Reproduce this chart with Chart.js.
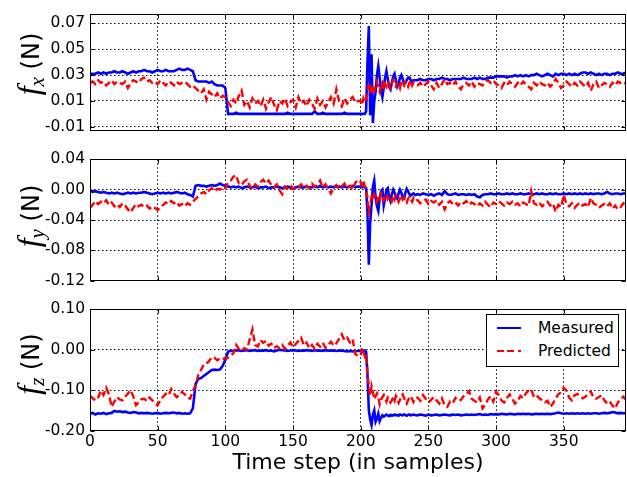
<!DOCTYPE html>
<html><head><meta charset="utf-8">
<script src="https://cdn.jsdelivr.net/npm/chart.js@4.4.1/dist/chart.umd.min.js"></script>
<style>
html,body{margin:0;padding:0;background:#fff;}
#wrap{position:relative;width:627px;height:477px;overflow:hidden;}
canvas{position:absolute;left:0;}
.ylab{position:absolute;white-space:nowrap;transform:translate(-50%,-50%) rotate(-90deg);font:24px "DejaVu Sans";line-height:1;color:#000;}
.ylab .f{font:italic 32px "Liberation Serif";}
.ylab .s{font:italic 21px "Liberation Serif";position:relative;top:5px;}
#legend{position:absolute;left:486px;top:314px;width:131px;height:51px;border:1px solid #000;background:#fff;font:15.5px "DejaVu Sans";color:#000;}
#legend .row{position:absolute;left:0;height:20px;line-height:20px;}
#legend .sw{position:absolute;left:10px;top:9px;width:24px;height:2px;}
#legend .tx{position:absolute;left:51px;top:0;white-space:nowrap;}
</style></head>
<body><div id="wrap">
<canvas id="c1" width="627" height="145" style="top:0px"></canvas>
<canvas id="c2" width="627" height="150" style="top:145px"></canvas>
<canvas id="c3" width="627" height="182" style="top:295px"></canvas>
<div class="ylab" style="left:28px;top:64px"><span class="f">f</span><span class="s">x</span> (N)</div>
<div class="ylab" style="left:28px;top:216px"><span class="f">f</span><span class="s">y</span> (N)</div>
<div class="ylab" style="left:28px;top:364px"><span class="f">f</span><span class="s">z</span> (N)</div>
<div id="legend">
 <div class="row" style="top:3px;width:131px"><div class="sw" style="background:#0000ff"></div><div class="tx">Measured</div></div>
 <div class="row" style="top:26px;width:131px"><div class="sw" style="background:repeating-linear-gradient(to right,#ff0000 0 7px,transparent 7px 10.5px)"></div><div class="tx">Predicted</div></div>
</div>
</div>
<script>
const seriesNames = ["Measured", "Predicted"];
const xTitle = "Time step (in samples)";
const xTicks = [0, 50, 100, 150, 200, 250, 300, 350];
const fxTicks = [-0.01, 0.01, 0.03, 0.05, 0.07];
const fyTicks = [-0.12, -0.08, -0.04, 0.00, 0.04];
const fzTicks = [-0.20, -0.10, 0.00, 0.10];

const steps = [
0,2,4,6,8,10,12,14,16,18,
20,22,24,26,28,30,32,34,36,38,
40,42,44,46,48,50,52,54,56,58,
60,62,64,66,68,70,72,74,76,78,
80,82,84,86,88,90,92,94,96,98,
100,102,104,106,108,110,112,114,116,118,
120,122,124,126,128,130,132,134,136,138,
140,142,144,146,148,150,152,154,156,158,
160,162,164,166,168,170,172,174,176,178,
180,182,184,186,188,190,192,194,196,198,
200,201,202,203,204,205,206,207,208,209,
210,211,212,213,214,215,216,217,218,219,
220,221,222,223,224,225,226,227,228,229,
230,231,232,233,234,235,236,237,238,239,
240,
242,244,246,248,250,252,254,256,258,260,
262,264,266,268,270,272,274,276,278,280,
282,284,286,288,290,292,294,296,298,300,
302,304,306,308,310,312,314,316,318,320,
322,324,326,328,330,332,334,336,338,340,
342,344,346,348,350,352,354,356,358,360,
362,364,366,368,370,372,374,376,378,380,
382,384,386,388,390,392,394,396];

const fxMeasured = [
0.031,0.031,0.031,0.032,0.031,0.032,0.031,0.032,0.032,0.033,
0.032,0.032,0.033,0.032,0.031,0.032,0.033,0.032,0.033,0.033,
0.034,0.033,0.033,0.032,0.033,0.034,0.033,0.033,0.034,0.033,
0.033,0.033,0.034,0.035,0.034,0.034,0.035,0.034,0.033,0.026,
0.025,0.025,0.025,0.025,0.024,0.025,0.023,0.022,0.022,0.022,
0.020,0.000,0.000,0.000,0.001,0.000,0.000,0.000,0.000,0.000,
0.000,0.000,0.000,0.000,0.000,0.000,0.000,0.000,0.000,0.000,
0.000,0.000,0.000,0.001,0.000,0.000,0.000,0.000,0.000,0.000,
0.000,0.000,0.000,0.002,0.000,0.000,0.001,0.000,0.000,0.000,
0.000,0.000,0.000,0.000,0.001,0.000,0.000,0.000,0.000,0.000,
0.000,0.000,0.000,0.000,0.002,0.040,0.068,-0.001,0.046,-0.007,
0.010,0.017,0.030,0.037,0.028,0.018,0.013,0.020,0.028,0.033,
0.027,0.021,0.019,0.024,0.029,0.031,0.026,0.021,0.023,0.028,
0.030,0.027,0.023,0.024,0.026,0.028,0.028,0.026,0.025,0.026,
0.026,
0.026,0.027,0.026,0.026,0.027,0.027,0.026,0.027,0.027,0.028,
0.027,0.027,0.026,0.027,0.027,0.027,0.027,0.028,0.027,0.027,
0.027,0.028,0.027,0.028,0.027,0.027,0.028,0.028,0.028,0.029,
0.029,0.029,0.029,0.028,0.029,0.029,0.030,0.029,0.030,0.029,
0.030,0.029,0.030,0.030,0.031,0.030,0.029,0.030,0.031,0.030,
0.029,0.031,0.030,0.031,0.031,0.030,0.031,0.030,0.031,0.030,
0.031,0.032,0.032,0.031,0.032,0.031,0.030,0.031,0.030,0.031,
0.031,0.030,0.031,0.031,0.032,0.031,0.031,0.032];

const fxPredicted = [
0.024,0.025,0.023,0.026,0.024,0.025,0.022,0.024,0.026,0.023,
0.025,0.024,0.023,0.025,0.020,0.024,0.026,0.025,0.024,0.027,
0.028,0.025,0.026,0.024,0.025,0.023,0.026,0.024,0.022,0.025,
0.024,0.022,0.025,0.023,0.024,0.025,0.023,0.021,0.022,0.020,
0.018,0.016,0.019,0.011,0.017,0.015,0.013,0.016,0.012,0.014,
0.013,0.009,0.006,0.011,0.008,0.014,0.018,0.007,0.010,0.005,
0.012,0.008,0.010,0.006,0.011,0.004,0.009,0.013,0.007,0.003,
0.010,0.008,0.012,0.006,0.009,0.011,0.005,0.013,0.008,0.010,
0.006,0.011,0.008,0.004,0.012,0.007,0.010,0.005,0.009,0.013,
0.008,0.019,0.010,0.006,0.012,0.008,0.011,0.013,0.009,0.010,
0.010,0.007,0.012,0.009,0.011,0.016,0.024,0.019,0.015,0.022,
0.018,0.021,0.025,0.020,0.017,0.022,0.024,0.019,0.023,0.021,
0.025,0.022,0.020,0.024,0.026,0.022,0.021,0.024,0.023,0.020,
0.025,0.024,0.022,0.025,0.023,0.021,0.024,0.026,0.022,0.024,
0.023,
0.022,0.024,0.021,0.023,0.025,0.022,0.019,0.024,0.020,0.023,
0.027,0.023,0.024,0.022,0.025,0.021,0.019,0.023,0.024,0.022,
0.025,0.021,0.024,0.023,0.022,0.025,0.026,0.024,0.026,0.023,
0.022,0.020,0.024,0.022,0.025,0.023,0.021,0.024,0.022,0.025,
0.023,0.021,0.019,0.024,0.022,0.025,0.023,0.022,0.024,0.021,
0.023,0.027,0.024,0.020,0.022,0.025,0.023,0.021,0.024,0.022,
0.025,0.023,0.021,0.024,0.018,0.023,0.025,0.020,0.022,0.024,
0.023,0.021,0.024,0.022,0.025,0.024,0.025,0.023];

const fyMeasured = [
-0.002,-0.003,-0.002,-0.003,-0.004,-0.003,-0.004,-0.005,-0.004,-0.005,
-0.004,-0.005,-0.006,-0.005,-0.004,-0.005,-0.004,-0.005,-0.004,-0.004,
-0.003,-0.004,-0.005,-0.006,-0.005,-0.004,-0.005,-0.004,-0.005,-0.004,
-0.005,-0.004,-0.003,-0.004,-0.005,-0.004,-0.006,-0.007,-0.009,0.005,
0.006,0.005,0.005,0.004,0.005,0.006,0.005,0.006,0.008,0.006,
0.005,0.004,0.003,0.004,0.003,0.004,0.002,0.003,0.004,0.003,
0.003,0.004,0.002,0.003,0.003,0.004,0.002,0.003,0.003,0.004,
0.003,0.002,0.003,0.004,0.003,0.002,0.003,0.004,0.003,0.003,
0.004,0.003,0.003,0.004,0.003,0.005,0.003,0.004,0.003,0.004,
0.003,0.004,0.004,0.003,0.004,0.003,0.004,0.005,0.003,0.004,
0.004,0.003,0.004,0.003,0.002,-0.030,-0.099,-0.043,-0.020,0.004,
0.012,-0.010,-0.022,-0.028,-0.012,-0.002,0.000,-0.021,-0.012,0.000,
0.002,-0.010,-0.015,-0.006,0.000,-0.004,-0.010,-0.012,-0.005,0.000,
-0.004,-0.011,-0.012,-0.004,0.001,-0.002,-0.006,-0.008,-0.006,-0.005,
-0.007,
-0.006,-0.007,-0.005,-0.006,-0.007,-0.006,-0.008,-0.006,-0.005,-0.007,
-0.002,-0.006,-0.007,-0.006,-0.005,-0.007,-0.006,-0.006,-0.007,-0.006,
-0.007,-0.006,-0.009,-0.010,-0.007,-0.006,-0.006,-0.005,-0.006,-0.006,
-0.005,-0.006,-0.006,-0.005,-0.006,-0.005,-0.006,-0.006,-0.005,-0.006,
-0.006,-0.005,-0.006,-0.006,-0.005,-0.006,-0.005,-0.006,-0.006,-0.005,
-0.006,-0.005,-0.006,-0.006,-0.005,-0.006,-0.005,-0.006,-0.005,-0.006,
-0.005,-0.006,-0.005,-0.006,-0.005,-0.006,-0.005,-0.005,-0.006,-0.005,
-0.003,-0.005,-0.006,-0.005,-0.005,-0.006,-0.005,-0.005];

const fyPredicted = [
-0.024,-0.020,-0.015,-0.019,-0.016,-0.018,-0.014,-0.020,-0.017,-0.022,
-0.019,-0.023,-0.018,-0.021,-0.026,-0.030,-0.024,-0.019,-0.022,-0.020,
-0.023,-0.021,-0.025,-0.022,-0.024,-0.027,-0.023,-0.020,-0.017,-0.019,
-0.015,-0.018,-0.016,-0.021,-0.019,-0.022,-0.018,-0.020,-0.016,-0.012,
-0.009,-0.005,-0.003,-0.006,-0.001,0.002,-0.002,0.001,0.000,0.004,
0.002,0.009,0.012,0.017,0.019,0.008,0.006,0.011,0.013,0.005,
0.001,0.007,0.004,0.010,0.013,0.008,0.012,0.006,0.003,0.007,
-0.001,-0.006,0.004,0.002,0.006,0.001,0.004,0.003,0.007,0.002,
0.005,0.002,0.008,0.004,0.006,0.012,0.003,0.007,0.001,-0.005,
0.003,0.006,0.001,0.004,0.008,0.002,0.005,0.000,0.009,0.013,
0.010,0.006,0.012,0.004,0.002,-0.012,-0.030,-0.018,-0.010,-0.014,
-0.006,-0.011,-0.016,-0.008,-0.012,-0.005,-0.010,-0.014,-0.009,-0.006,
-0.012,-0.008,-0.011,-0.015,-0.009,-0.013,-0.007,-0.011,-0.016,-0.012,
-0.008,-0.013,-0.010,-0.014,-0.017,-0.012,-0.009,-0.013,-0.016,-0.011,
-0.014,
-0.014,-0.018,-0.016,-0.013,-0.019,-0.015,-0.017,-0.014,-0.020,-0.016,
-0.026,-0.018,-0.015,-0.019,-0.017,-0.021,-0.016,-0.018,-0.015,-0.020,
-0.017,-0.019,-0.022,-0.018,-0.021,-0.016,-0.020,-0.023,-0.017,-0.019,
-0.015,-0.018,-0.021,-0.017,-0.019,-0.016,-0.020,-0.018,-0.022,-0.017,
-0.019,-0.021,-0.002,-0.018,-0.020,-0.017,-0.022,-0.019,-0.016,-0.021,
-0.018,-0.029,-0.020,-0.023,-0.007,-0.019,-0.022,-0.018,-0.024,-0.020,
-0.017,-0.021,-0.019,-0.023,-0.011,-0.018,-0.020,-0.024,-0.021,-0.019,
-0.022,-0.018,-0.025,-0.021,-0.026,-0.023,-0.018,-0.021];

const fzMeasured = [
-0.158,-0.156,-0.160,-0.157,-0.158,-0.156,-0.159,-0.157,-0.156,-0.151,
-0.153,-0.152,-0.154,-0.153,-0.155,-0.156,-0.154,-0.155,-0.157,-0.156,
-0.157,-0.156,-0.157,-0.158,-0.157,-0.156,-0.158,-0.157,-0.156,-0.157,
-0.156,-0.155,-0.157,-0.156,-0.158,-0.157,-0.158,-0.157,-0.145,-0.085,
-0.072,-0.070,-0.065,-0.060,-0.055,-0.050,-0.049,-0.050,-0.049,-0.040,
-0.025,-0.005,-0.002,-0.003,-0.001,-0.002,-0.003,-0.002,-0.001,-0.003,
-0.002,-0.001,-0.003,-0.002,-0.002,-0.001,-0.003,-0.002,-0.004,-0.002,
0.000,-0.001,-0.002,-0.003,-0.002,-0.001,-0.002,-0.003,-0.002,-0.002,
-0.001,-0.002,-0.003,-0.001,-0.002,-0.002,-0.003,-0.001,-0.002,-0.002,
-0.002,-0.003,-0.002,-0.002,-0.003,-0.004,-0.003,-0.004,-0.003,-0.003,
-0.003,-0.002,-0.003,-0.002,-0.005,-0.060,-0.150,-0.172,-0.186,-0.160,
-0.150,-0.178,-0.170,-0.158,-0.176,-0.168,-0.162,-0.165,-0.163,-0.160,
-0.162,-0.164,-0.161,-0.163,-0.162,-0.160,-0.162,-0.161,-0.163,-0.160,
-0.161,-0.162,-0.160,-0.161,-0.163,-0.161,-0.160,-0.162,-0.161,-0.160,
-0.161,
-0.162,-0.160,-0.161,-0.163,-0.160,-0.162,-0.161,-0.160,-0.162,-0.161,
-0.160,-0.161,-0.162,-0.160,-0.161,-0.160,-0.162,-0.161,-0.160,-0.161,
-0.160,-0.161,-0.160,-0.159,-0.161,-0.160,-0.161,-0.159,-0.160,-0.159,
-0.160,-0.158,-0.159,-0.160,-0.158,-0.159,-0.160,-0.158,-0.159,-0.158,
-0.159,-0.158,-0.160,-0.159,-0.158,-0.159,-0.158,-0.159,-0.158,-0.159,
-0.158,-0.157,-0.155,-0.157,-0.158,-0.157,-0.158,-0.157,-0.158,-0.157,
-0.158,-0.157,-0.158,-0.157,-0.158,-0.157,-0.157,-0.158,-0.157,-0.156,
-0.157,-0.156,-0.154,-0.155,-0.157,-0.156,-0.157,-0.157];

const fzPredicted = [
-0.113,-0.120,-0.125,-0.118,-0.101,-0.112,-0.094,-0.110,-0.141,-0.128,
-0.117,-0.123,-0.125,-0.116,-0.108,-0.100,-0.115,-0.137,-0.130,-0.122,
-0.121,-0.127,-0.118,-0.125,-0.131,-0.137,-0.124,-0.116,-0.109,-0.113,
-0.097,-0.108,-0.117,-0.112,-0.104,-0.110,-0.118,-0.121,-0.102,-0.088,
-0.062,-0.050,-0.037,-0.034,-0.028,-0.018,-0.020,-0.026,-0.022,-0.024,
-0.019,-0.020,-0.015,-0.008,0.012,0.002,-0.003,0.004,0.000,0.026,
0.050,0.012,0.008,0.024,0.017,0.022,0.010,0.015,0.005,0.009,
0.004,0.012,0.002,0.010,0.018,0.006,0.014,0.022,0.030,0.011,
0.018,0.004,0.012,0.002,0.015,0.008,0.017,0.005,0.012,0.020,
0.010,0.016,0.027,0.038,0.024,0.030,0.018,0.026,-0.010,-0.016,
-0.012,0.004,-0.006,-0.016,-0.010,-0.060,-0.088,-0.113,-0.090,-0.105,
-0.122,-0.115,-0.108,-0.118,-0.135,-0.124,-0.117,-0.112,-0.120,-0.128,
-0.118,-0.122,-0.130,-0.125,-0.118,-0.126,-0.114,-0.121,-0.131,-0.124,
-0.113,-0.110,-0.119,-0.127,-0.133,-0.125,-0.118,-0.115,-0.122,-0.129,
-0.120,
-0.118,-0.126,-0.112,-0.121,-0.130,-0.124,-0.117,-0.125,-0.133,-0.120,
-0.137,-0.141,-0.128,-0.132,-0.119,-0.126,-0.124,-0.115,-0.110,-0.102,
-0.121,-0.126,-0.130,-0.118,-0.145,-0.135,-0.123,-0.115,-0.128,-0.104,
-0.112,-0.125,-0.130,-0.119,-0.110,-0.121,-0.133,-0.127,-0.114,-0.120,
-0.108,-0.101,-0.098,-0.117,-0.113,-0.120,-0.125,-0.130,-0.126,-0.141,
-0.133,-0.120,-0.110,-0.105,-0.094,-0.101,-0.118,-0.125,-0.112,-0.109,
-0.115,-0.120,-0.116,-0.108,-0.103,-0.118,-0.121,-0.117,-0.112,-0.125,
-0.133,-0.128,-0.138,-0.145,-0.130,-0.122,-0.116,-0.124];

Chart.defaults.font.family = "DejaVu Sans";
Chart.defaults.font.size = 15.5;
Chart.defaults.color = "#000";
Chart.defaults.animation = false;

const framePlugin = {
  id: 'frame',
  afterDraw(chart) {
    const {ctx, chartArea: a, scales} = chart;
    ctx.save();
    ctx.strokeStyle = '#000';
    ctx.lineWidth = 1;
    const L = Math.round(a.left) + 0.5, R = Math.round(a.right) - 0.5;
    const T = Math.round(a.top) + 0.5, B = Math.round(a.bottom) - 0.5;
    ctx.strokeRect(L, T, R - L, B - T);
    ctx.beginPath();
    scales.x.ticks.forEach(t => {
      const x = Math.round(scales.x.getPixelForValue(t.value)) + 0.5;
      ctx.moveTo(x, T); ctx.lineTo(x, T + 4);
      ctx.moveTo(x, B); ctx.lineTo(x, B - 4);
    });
    scales.y.ticks.forEach(t => {
      const y = Math.round(scales.y.getPixelForValue(t.value)) + 0.5;
      ctx.moveTo(L, y); ctx.lineTo(L + 4, y);
      ctx.moveTo(R, y); ctx.lineTo(R - 4, y);
    });
    ctx.stroke();
    ctx.restore();
  }
};

function makeChart(id, measured, predicted, yMin, yMax, yTicks, padTop, xHeight, showX) {
  return new Chart(document.getElementById(id), {
    type: 'line',
    data: {
      labels: steps,
      datasets: [
        { label: seriesNames[0], data: measured, borderColor: '#0000ff', borderWidth: 2.6,
          pointRadius: 0, tension: 0, fill: false, order: 1 },
        { label: seriesNames[1], data: predicted, borderColor: '#ff0000', borderWidth: 2.4,
          borderDash: [7, 3.5], pointRadius: 0, tension: 0, fill: false, order: 0 }
      ]
    },
    options: {
      responsive: false,
      maintainAspectRatio: false,
      animation: false,
      layout: { padding: { top: padTop, right: 1, left: 0, bottom: 0 } },
      plugins: { legend: { display: false }, tooltip: { enabled: false } },
      scales: {
        x: {
          type: 'linear', min: 0, max: 396,
          afterBuildTicks: s => { s.ticks = xTicks.map(v => ({ value: v })); },
          afterFit: s => { s.height = xHeight; },
          grid: { color: '#000', lineWidth: 1, drawTicks: false },
          border: { display: false, dash: [1.5, 2.5] },
          ticks: { display: showX, padding: 2, color: '#000', maxRotation: 0,
                   callback: v => String(v) },
          title: { display: showX, text: xTitle, color: '#000',
                   font: { size: 22, family: 'DejaVu Sans' }, padding: { top: 0, bottom: 1 } }
        },
        y: {
          min: yMin, max: yMax,
          afterBuildTicks: s => { s.ticks = yTicks.map(v => ({ value: v })); },
          afterFit: s => { s.width = 90; },
          grid: { color: '#000', lineWidth: 1, drawTicks: false },
          border: { display: false, dash: [1.5, 2.5] },
          ticks: { padding: 5, color: '#000', callback: v => Number(v).toFixed(2) }
        }
      }
    },
    plugins: [framePlugin]
  });
}

makeChart('c1', fxMeasured, fxPredicted, -0.013, 0.077, fxTicks, 7.5, 13.3, false);
makeChart('c2', fyMeasured, fyPredicted, -0.12, 0.04, fyTicks, 12.3, 13.3, false);
makeChart('c3', fzMeasured, fzPredicted, -0.20, 0.10, fzTicks, 11, 46.3, true);
</script>
</body></html>
